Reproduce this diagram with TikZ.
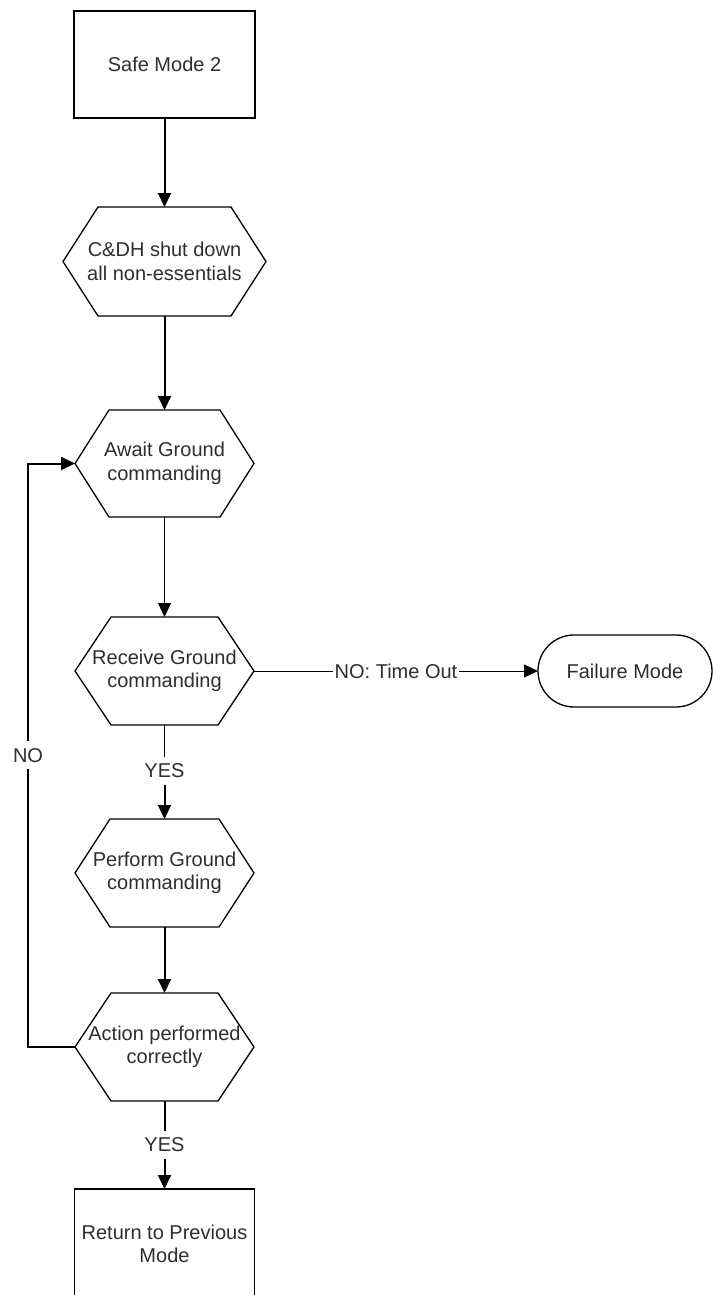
\documentclass[tikz,border=0pt]{standalone}
\usepackage{fontspec}
\setmainfont{Liberation Sans}
\usetikzlibrary{arrows.meta}

% Hexagonal outline around a (borderless) rectangular node #1, with corner cut #2
\newcommand{\hexframe}[2]{%
  \draw[outline] (#1.west) -- ([xshift=#2]#1.north west) -- ([xshift=-#2]#1.north east)
    -- (#1.east) -- ([xshift=-#2]#1.south east) -- ([xshift=#2]#1.south west) -- cycle;}

\begin{document}
\begin{tikzpicture}[x=1pt,y=-1pt,
  every node/.style={font=\fontsize{20}{23.5}\selectfont, text=black!82, align=center,
                     outer sep=0pt, inner sep=0pt},
  outline/.style={draw=black, line width=1.3pt},
  boxnode/.style={outline, rectangle, minimum width=180pt, minimum height=107pt},
  hexnode/.style={rectangle, minimum width=179pt, minimum height=108pt},
  endnode/.style={outline, rectangle, rounded corners=36pt, minimum width=174pt, minimum height=72pt},
  heavy/.style={draw=black, line width=2pt},
  light/.style={draw=black, line width=1pt},
  tip/.style={-{Triangle[length=14pt,width=13pt]}},
  edgelabel/.style={fill=white, inner xsep=1.5pt, inner ysep=7pt}
]
\useasboundingbox (0,0) rectangle (714,1295);
\clip (0,0) rectangle (714,1295);

% process boxes
\node[boxnode, minimum width=181pt] (safe) at (164.5,64.5) {Safe Mode 2};
\node[hexnode, minimum width=203pt, minimum height=109pt] (cdh) at (164.5,261.5) {C\&DH shut down\\all non-essentials};
\node[hexnode, minimum height=107pt] (await) at (164.5,463.5) {Await Ground\\commanding};
\node[hexnode] (receive) at (164.5,671) {Receive Ground\\commanding};
\node[hexnode] (perform) at (164.5,873) {Perform Ground\\commanding};
\node[hexnode] (action) at (164.5,1047) {Action performed\\correctly};
\node[endnode] (failure) at (625,671) {Failure Mode};
\node[boxnode, minimum height=110pt] (ret) at (164.5,1244) {Return to Previous\\Mode};

\hexframe{cdh}{35pt}
\hexframe{await}{34pt}
\hexframe{receive}{36pt}
\hexframe{perform}{35pt}
\hexframe{action}{36pt}

% connectors
\draw[heavy, tip] (safe.south) -- (cdh.north);
\draw[heavy, tip] (cdh.south) -- (await.north);
\draw[light, tip] (await.south) -- (receive.north);

\draw[light, tip] (receive.east) -- node[edgelabel] {NO: Time Out} (failure.west);

\node[edgelabel] (yes1) at (164.5,771) {YES};
\draw[light] (receive.south) -- (yes1.north);
\draw[heavy, tip] (yes1.south) -- (perform.north);

\draw[heavy, tip] (perform.south) -- (action.north);

\draw[heavy, tip] (action.south) -- node[edgelabel] {YES} (ret.north);

% retry loop back to waiting for commands
\coordinate (loopx) at (28,0);
\draw[heavy, tip] (action.west) -- (action.west -| loopx)
  -- node[edgelabel] {NO} (await.west -| loopx) -- (await.west);
\end{tikzpicture}
\end{document}
